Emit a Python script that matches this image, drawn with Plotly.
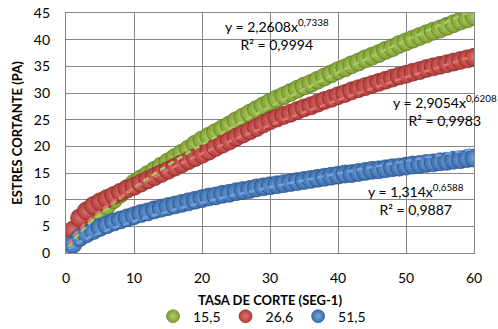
import numpy as np
import plotly.graph_objects as go

# Shear rate (1/s) and shear stress (Pa) for three temperatures
tasa = list(range(0, 61))

esfuerzo_15_5 = [0.3, 2.1, 3.6, 5.0, 6.3, 7.6, 8.8, 10.0, 11.1, 12.1,
                 13.1, 13.9, 14.7, 15.5, 16.3, 17.1, 17.9, 18.7, 19.5, 20.4,
                 21.2, 21.9, 22.6, 23.3, 24.0, 24.8, 25.5, 26.2, 26.9, 27.6,
                 28.3, 28.9, 29.5, 30.1, 30.7, 31.3, 31.8, 32.4, 33.0, 33.6,
                 34.2, 34.7, 35.3, 35.8, 36.4, 36.9, 37.4, 38.0, 38.5, 39.1,
                 39.6, 40.1, 40.6, 41.1, 41.6, 42.0, 42.5, 43.0, 43.5, 43.9,
                 44.4]

esfuerzo_26_6 = [0.8, 4.3, 6.6, 7.9, 8.9, 9.6, 10.2, 10.8, 11.4, 12.0,
                 12.5, 13.1, 13.7, 14.3, 14.9, 15.5, 16.1, 16.7, 17.3, 17.9,
                 18.5, 19.1, 19.8, 20.4, 21.0, 21.7, 22.3, 22.9, 23.5, 24.2,
                 24.8, 25.3, 25.8, 26.2, 26.7, 27.2, 27.6, 28.1, 28.6, 29.0,
                 29.5, 29.9, 30.4, 30.8, 31.2, 31.6, 32.0, 32.4, 32.8, 33.2,
                 33.5, 33.9, 34.2, 34.6, 34.9, 35.2, 35.5, 35.8, 36.1, 36.4,
                 36.7]

esfuerzo_51_5 = [0.2, 1.6, 2.9, 3.6, 4.2, 4.8, 5.3, 5.8, 6.2, 6.6,
                 7.0, 7.4, 7.7, 8.1, 8.4, 8.7, 9.0, 9.3, 9.6, 9.9,
                 10.2, 10.5, 10.7, 11.0, 11.2, 11.5, 11.7, 11.9, 12.2, 12.4,
                 12.6, 12.8, 13.0, 13.2, 13.4, 13.6, 13.8, 14.0, 14.2, 14.4,
                 14.6, 14.8, 14.9, 15.1, 15.3, 15.5, 15.6, 15.8, 16.0, 16.1,
                 16.3, 16.5, 16.6, 16.8, 16.9, 17.1, 17.2, 17.4, 17.5, 17.7,
                 17.8]

nombres = ["15,5", "26,6", "51,5"]
series = [esfuerzo_15_5, esfuerzo_26_6, esfuerzo_51_5]

# Power-law trendlines y = a * x^b as reported on the chart
coef_a = [2.2608, 2.9054, 1.314]
coef_b = [0.7338, 0.6208, 0.6588]
coef_r2 = ["0,9994", "0,9983", "0,9887"]
etiquetas_a = ["2,2608", "2,9054", "1,314"]
etiquetas_b = ["0,7338", "0,6208", "0,6588"]

# sphere look: edge colour, highlight colour, outline, trendline colour
borde = ["#7e9e34", "#b03c39", "#3a6cab"]
brillo = ["#b2d265", "#e07470", "#78a6e2"]
contorno = ["#5f7a25", "#852a28", "#284f85"]
linea = ["#a9cb5c", "#e0716d", "#6f9fde"]

fig = go.Figure()

for nombre, y, c_borde, c_brillo, c_cont in zip(nombres, series, borde, brillo, contorno):
    fig.add_trace(go.Scatter(
        x=tasa, y=y, mode="markers", name=nombre, showlegend=False,
        marker=dict(size=18, color=c_borde,
                    gradient=dict(type="radial", color=c_brillo),
                    line=dict(width=0.7, color=c_cont)),
        hoverinfo="x+y",
    ))

# trendlines drawn above all markers
x_fit = np.linspace(0.4, 60, 300)
for a, b, c in zip(coef_a, coef_b, linea):
    fig.add_trace(go.Scatter(
        x=x_fit, y=a * x_fit ** b, mode="lines", showlegend=False,
        line=dict(color=c, width=2.6, dash="6px,4px"), hoverinfo="skip",
    ))

# legend entries
for nombre, c_borde, c_brillo, c_cont in zip(nombres, borde, brillo, contorno):
    fig.add_trace(go.Scatter(
        x=[None], y=[None], mode="markers", name=nombre,
        marker=dict(size=13, color=c_borde,
                    gradient=dict(type="radial", color=c_brillo),
                    line=dict(width=0.6, color=c_cont)),
    ))

# trendline equations
pos_eq = [(31.0, 41.0), (55.8, 26.8), (51.5, 10.0)]
for (xe, ye), a, b, r2 in zip(pos_eq, etiquetas_a, etiquetas_b, coef_r2):
    fig.add_annotation(
        x=xe, y=ye, xref="x", yref="y", showarrow=False, align="center",
        text=f"y = {a}x<sup>{b}</sup><br>R² = {r2}",
        font=dict(family="Lato", size=14, color="#000000"),
    )

grid = "#868686"
fig.update_layout(
    width=498, height=329,
    margin=dict(l=66, r=24, t=13, b=76, autoexpand=False),
    paper_bgcolor="white", plot_bgcolor="white",
    font=dict(family="Lato", size=14, color="#000000"),
    xaxis=dict(range=[0, 60], dtick=10, showgrid=True, gridcolor=grid, gridwidth=1.3,
               showline=True, linecolor=grid, linewidth=1.3, mirror=True,
               zeroline=False, ticks="", ticklabelstandoff=12, automargin=False,
               tickfont=dict(family="Lato", size=14, color="#000000"),
               title=dict(text="<b>TASA DE CORTE (SEG-1)</b>", standoff=10,
                          font=dict(family="Lato", size=13, color="#000000"))),
    yaxis=dict(range=[0, 45], dtick=5, showgrid=True, gridcolor=grid, gridwidth=1.3,
               showline=True, linecolor=grid, linewidth=1.3, mirror=True,
               zeroline=False, ticks="", ticklabelstandoff=12, automargin=False,
               tickfont=dict(family="Lato", size=14, color="#000000"),
               title=dict(text="<b>ESTRES CORTANTE (PA)</b>", standoff=8,
                          font=dict(family="Lato", size=13, color="#000000"))),
    legend=dict(orientation="h", x=(153 - 66) / 408, xanchor="left",
                y=-0.265, yanchor="middle",
                font=dict(family="Lato", size=14, color="#000000"),
                itemwidth=30, tracegroupgap=0, bgcolor="rgba(0,0,0,0)"),
)

fig.write_html("out.html")
